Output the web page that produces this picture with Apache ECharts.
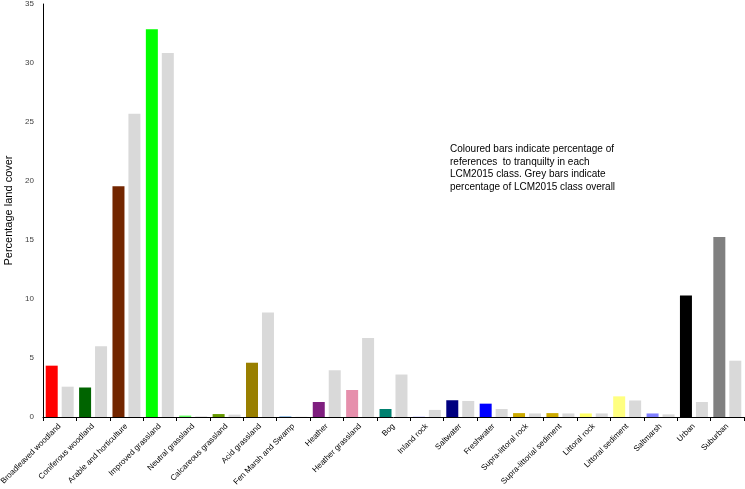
<!DOCTYPE html>
<html>
<head>
<meta charset="utf-8">
<script src="https://cdn.jsdelivr.net/npm/echarts@6/dist/echarts.min.js"></script>
<style>html,body{margin:0;padding:0;background:#fff;}#c{width:745px;height:489px;}</style>
</head>
<body>
<div id="c"></div>
<script>
const categories = ["Broadleaved woodland","Coniferous woodland","Arable and horticulture","Improved grassland","Neutral grassland","Calcareous grassland","Acid grassland","Fen Marsh and Swamp","Heather","Heather grassland","Bog","Inland rock","Saltwater","Freshwater","Supra-littoral rock","Supra-littorial sediment","Littoral rock","Littoral sediment","Saltmarsh","Urban","Suburban"];
const tranquilityPct = [4.35,2.5,19.55,32.85,0.12,0.25,4.6,0.05,1.27,2.29,0.68,0.05,1.42,1.13,0.33,0.33,0.3,1.75,0.3,10.3,15.25];
const classPct = [2.57,6.0,25.7,30.85,0.05,0.2,8.85,0.02,3.96,6.7,3.6,0.6,1.36,0.68,0.3,0.3,0.3,1.4,0.22,1.27,4.77];
const barColors = ["#ff0000","#006400","#732600","#00ff00","#66ff66","#669900","#997f00","#5b9bd5","#7f1f7f","#e68fac","#00806f","#ccccff","#000080","#0000ff","#ccaa00","#ccaa00","#ffff66","#ffff80","#8080ff","#000000","#808080"];
const yTicks = [0,5,10,15,20,25,30,35];
const noteLines = ["Coloured bars indicate percentage of","references  to tranquilty in each","LCM2015 class. Grey bars indicate","percentage of LCM2015 class overall"];

const chart = echarts.init(document.getElementById('c'), null, {renderer:'canvas'});
const font = "Liberation Sans";
chart.setOption({
  animation:false,
  backgroundColor:'#fff',
  textStyle:{fontFamily:font},
  grid:{left:43,right:1,top:4,bottom:72,containLabel:false,outerBoundsMode:'none'},
  xAxis:{
    type:'category',
    data:categories,
    axisLine:{lineStyle:{color:'#000',width:1}},
    axisTick:{show:true,alignWithLabel:false,length:4,lineStyle:{color:'#000'}},
    axisLabel:{rotate:45,interval:0,fontSize:8,color:'#000',fontFamily:font,margin:8}
  },
  yAxis:{
    type:'value',min:yTicks[0],max:yTicks[yTicks.length-1],interval:5,
    name:'Percentage land cover',nameLocation:'middle',nameGap:27,
    nameTextStyle:{fontSize:11,color:'#000',fontFamily:font},
    axisLine:{show:true,lineStyle:{color:'#000',width:1}},
    axisTick:{show:false},
    splitLine:{show:false},
    axisLabel:{fontSize:8,color:'#404040',fontFamily:font,margin:9}
  },
  series:[
    {type:'bar',barWidth:12,barGap:'33%',
     data:tranquilityPct.map((v,i)=>({value:v,itemStyle:{color:barColors[i]}}))},
    {type:'bar',barWidth:12,barGap:'33%',itemStyle:{color:'#d9d9d9'},data:classPct}
  ],
  graphic:[{type:'text',left:450,top:143,style:{text:noteLines.join('\n'),fontSize:10,lineHeight:12.5,fill:'#000',fontFamily:font}}]
});
</script>
</body>
</html>
